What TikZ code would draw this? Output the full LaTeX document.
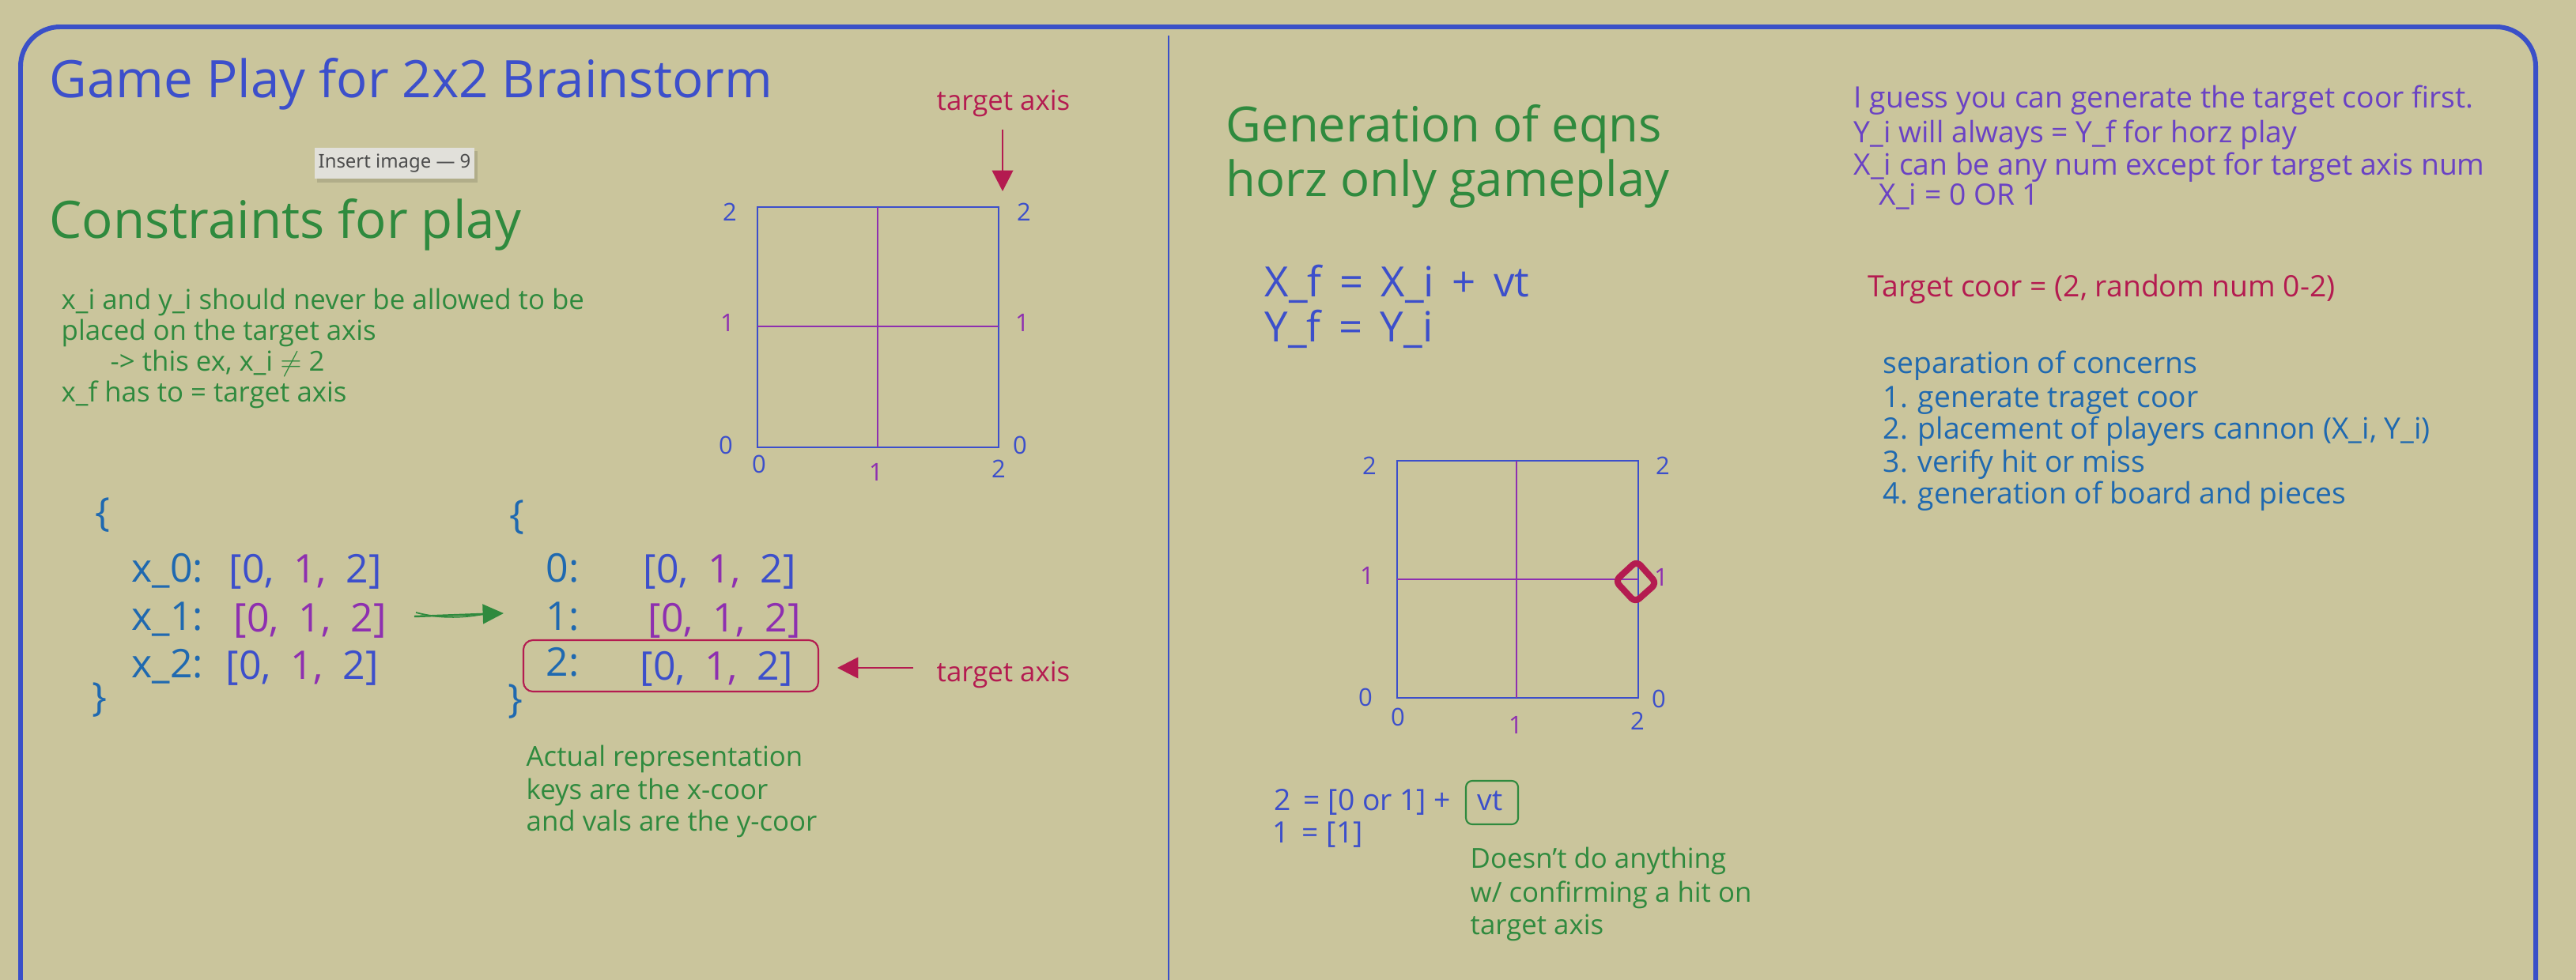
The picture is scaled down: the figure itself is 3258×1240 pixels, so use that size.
\documentclass[tikz,border=0pt]{standalone}
\usepackage{fontspec}
\setmainfont{Open Sans}
\newfontfamily\uifont{Noto Sans}
\usetikzlibrary{arrows.meta}
\definecolor{bg}{HTML}{CAC59C}
\definecolor{frameblue}{HTML}{3A50C8}
\definecolor{inkblue}{HTML}{3C4FCB}
\definecolor{steel}{HTML}{1F69B0}
\definecolor{ink green}{HTML}{2F8A3E}
\definecolor{crimson}{HTML}{B41B50}
\definecolor{purp}{HTML}{8E2FB0}
\definecolor{violet}{HTML}{6A42C4}
\definecolor{tipfill}{HTML}{E1E0DA}
\definecolor{tiptext}{HTML}{4D4D4D}
\newcommand{\titlefont}{\fontsize{18.6pt}{22pt}\selectfont}
\newcommand{\headfont}{\fontsize{18.6pt}{22pt}\selectfont}
\newcommand{\rheadfont}{\fontsize{17.5pt}{21pt}\selectfont}
\newcommand{\notefont}{\fontsize{9.9pt}{12pt}\selectfont}
\newcommand{\rnotefont}{\fontsize{10.6pt}{13pt}\selectfont}
\newcommand{\eqfont}{\fontsize{15pt}{18pt}\selectfont}
\newcommand{\dictfont}{\fontsize{14.2pt}{17pt}\selectfont}
\newcommand{\labfont}{\fontsize{8.8pt}{10pt}\selectfont}
\newcommand{\tipfont}{\fontsize{6.8pt}{8pt}\selectfont}
\newcommand{\gap}{\hspace{0.5em}}
\begin{document}
\begin{tikzpicture}[x=0.01cm,y=-0.01cm,
  txt/.style={anchor=base west, inner sep=0pt},
  note/.style={txt, font=\notefont},
  rnote/.style={txt, font=\rnotefont},
  lab/.style={anchor=center, inner sep=0pt, font=\labfont},
  gridbox/.style={draw=inkblue, line width=0.6pt},
  gridmid/.style={draw=purp, line width=0.8pt},
  redarrow/.style={draw=crimson, line width=0.8pt, -{Triangle[length=7.5pt,width=7.5pt]}},
  greenarrow/.style={draw=ink green, line width=0.7pt, -{Triangle[length=7.5pt,width=7pt]}}]
\fill[bg] (0,0) rectangle (3258,1240);
\useasboundingbox (0,0) rectangle (3258,1240);
% frame and divider
\draw[frameblue, line width=1.7pt, rounded corners=0.5cm] (26,1250) -- (26,34) -- (3207,34) -- (3207,1250);
\draw[frameblue, line width=0.5pt] (1478,45) -- (1478,1250);

% ---------- left panel ----------
\node[txt, font=\titlefont, text=inkblue] (title) at (62,124) {Game Play for 2x2 Brainstorm};

\fill[black, opacity=0.12] (401,191) rectangle (604,231);
\node[draw=none, fill=tipfill, minimum width=202*0.01cm, minimum height=39*0.01cm, inner sep=0pt,
      font=\uifont\tipfont, text=tiptext] (tip) at (499,207) {Insert image — 9};

\node[txt, font=\headfont, text=ink green] (constr) at (62,302) {Constraints for play};
\node[note, text=ink green] (c1) at (77,392) {x\_i and y\_i should never be allowed to be};
\node[note, text=ink green] (c2) at (77,431) {placed on the target axis};
\node[note, text=ink green] (c3) at (139,470) {-> this ex, x\_i \(\neq\) 2};
\node[note, text=ink green] (c4) at (77,509) {x\_f has to = target axis};

\node[note, text=crimson] (tgt1) at (1184,140) {target axis};
\coordinate (tgt1tail) at (1268,164);
\coordinate (tgt1tip) at (1268,242);
\draw[redarrow] (tgt1tail) -- (tgt1tip);

% left grid
\draw[gridbox] (958,262) rectangle (1263,566);
\draw[gridmid] (1110,262) -- (1110,566);
\draw[gridmid] (958,413) -- (1263,413);
\node[lab, text=inkblue] (l2a) at (923,268) {2};
\node[lab, text=inkblue] (l2b) at (1295,268) {2};
\node[lab, text=purp] (l1a) at (920,408) {1};
\node[lab, text=purp] (l1b) at (1293,408) {1};
\node[lab, text=inkblue] (l0a) at (918,563) {0};
\node[lab, text=inkblue] (l0b) at (1290,563) {0};
\node[lab, text=inkblue] (lb0) at (960,587) {0};
\node[lab, text=purp] (lb1) at (1108,597) {1};
\node[lab, text=inkblue] (lb2) at (1263,593) {2};

% left dict
\node[anchor=center, inner sep=0pt, font=\dictfont, text=steel] (lbo) at (130,652) {\{};
\node[anchor=center, inner sep=0pt, font=\dictfont, text=steel] (lbc) at (126,886) {\}};
\node[txt, font=\dictfont, text=steel] (k0) at (166,736) {x\_0:};
\node[txt, font=\dictfont] (v0) at (289,738) {\textcolor{inkblue}{[0,}\gap\textcolor{purp}{1,}\gap\textcolor{inkblue}{2]}};
\node[txt, font=\dictfont, text=steel] (k1) at (166,797) {x\_1:};
\node[txt, font=\dictfont, text=purp] (v1) at (295,799) {[0,\gap 1,\gap 2]};
\node[txt, font=\dictfont, text=steel] (k2) at (166,857) {x\_2:};
\node[txt, font=\dictfont] (v2) at (285,859) {\textcolor{inkblue}{[0,}\gap\textcolor{purp}{1,}\gap\textcolor{inkblue}{2]}};

\coordinate (garrtail) at (524,780);
\coordinate (garrtip) at (637,776);
\draw[greenarrow] (garrtail) -- (garrtip);
\draw[ink green, line width=0.5pt] (526,775) .. controls (560,784) and (590,781) .. (612,777);

% right dict
\node[anchor=center, inner sep=0pt, font=\dictfont, text=steel] (rbo) at (654,655) {\{};
\node[anchor=center, inner sep=0pt, font=\dictfont, text=steel] (rbc) at (652,888) {\}};
\node[txt, font=\dictfont, text=steel] (r0) at (690,736) {0:};
\node[txt, font=\dictfont] (w0) at (813,738) {\textcolor{inkblue}{[0,}\gap\textcolor{purp}{1,}\gap\textcolor{inkblue}{2]}};
\node[txt, font=\dictfont, text=steel] (r1) at (690,797) {1:};
\node[txt, font=\dictfont, text=purp] (w1) at (819,799) {[0,\gap 1,\gap 2]};
\node[txt, font=\dictfont, text=steel] (r2) at (690,855) {2:};
\node[txt, font=\dictfont] (w2) at (809,860) {\textcolor{inkblue}{[0,}\gap\textcolor{purp}{1,}\gap\textcolor{inkblue}{2]}};
\draw[crimson, line width=0.6pt, rounded corners=0.12cm] (662,810) rectangle (1035,875);

\coordinate (tgt2tail) at (1155,845);
\coordinate (tgt2tip) at (1059,845);
\draw[redarrow] (tgt2tail) -- (tgt2tip);
\node[note, text=crimson] (tgt2) at (1184,862) {target axis};

\node[note, text=ink green] (a1) at (665,969) {Actual representation};
\node[note, text=ink green] (a2) at (665,1011) {keys are the x-coor};
\node[note, text=ink green] (a3) at (665,1051) {and vals are the y-coor};

% ---------- right panel ----------
\node[txt, font=\rheadfont, text=ink green] (gen1) at (1550,180) {Generation of eqns};
\node[txt, font=\rheadfont, text=ink green] (gen2) at (1550,249) {horz only gameplay};
\node[txt, font=\eqfont, text=inkblue] (eq1) at (1599,376) {X\_f \,=\, X\_i \,+\, vt};
\node[txt, font=\eqfont, text=inkblue] (eq2) at (1599,433) {Y\_f \,=\, Y\_i};

\node[rnote, text=violet] (g1) at (2344,137) {I guess you can generate the target coor first.};
\node[rnote, text=violet] (g2) at (2344,181) {Y\_i will always = Y\_f for horz play};
\node[rnote, text=violet] (g3) at (2344,222) {X\_i can be any num except for target axis num};
\node[rnote, text=violet] (g4) at (2376,260) {X\_i = 0 OR 1};

\node[rnote, text=crimson] (tc) at (2362,376) {Target coor = (2, random num 0-2)};

\node[rnote, text=steel] (s0) at (2381,473) {separation of concerns};
\node[rnote, text=steel] (s1) at (2381,516) {1. generate traget coor};
\node[rnote, text=steel] (s2) at (2381,556) {2. placement of players cannon (X\_i, Y\_i)};
\node[rnote, text=steel] (s3) at (2381,598) {3. verify hit or miss};
\node[rnote, text=steel] (s4) at (2381,638) {4. generation of board and pieces};

% right grid
\draw[gridbox] (1767,583) rectangle (2072,883);
\draw[gridmid] (1918,583) -- (1918,883);
\draw[gridmid] (1767,733) -- (2072,733);
\draw[crimson, line width=2.3pt, rounded corners=2pt, line join=round]
  (2070,710) -- (2095,738) -- (2068,762) -- (2043,735) -- cycle;
\node[lab, text=inkblue] (r2a) at (1732,589) {2};
\node[lab, text=inkblue] (r2b) at (2103,589) {2};
\node[lab, text=purp] (r1a) at (1729,728) {1};
\node[lab, text=purp] (r1b) at (2101,730) {1};
\node[lab, text=inkblue] (r0a) at (1727,882) {0};
\node[lab, text=inkblue] (r0b) at (2098,884) {0};
\node[lab, text=inkblue] (rb0) at (1768,907) {0};
\node[lab, text=purp] (rb1) at (1917,917) {1};
\node[lab, text=inkblue] (rb2) at (2071,912) {2};

\node[note, text=inkblue, font=\fontsize{10.6pt}{13pt}\selectfont] (e1) at (1611,1025) {2 \,= [0 or 1] +};
\node[note, text=inkblue, font=\fontsize{10.6pt}{13pt}\selectfont] (vt) at (1868,1025) {vt};
\draw[ink green, line width=0.6pt, rounded corners=0.08cm] (1854,988) rectangle (1920,1043);
\node[note, text=inkblue, font=\fontsize{10.6pt}{13pt}\selectfont] (e2) at (1609,1066) {1 \,= [1]};

\node[note, text=ink green] (d1) at (1859,1098) {Doesn't do anything};
\node[note, text=ink green] (d2) at (1859,1141) {w/ confirming a hit on};
\node[note, text=ink green] (d3) at (1859,1182) {target axis};
\end{tikzpicture}
\end{document}
